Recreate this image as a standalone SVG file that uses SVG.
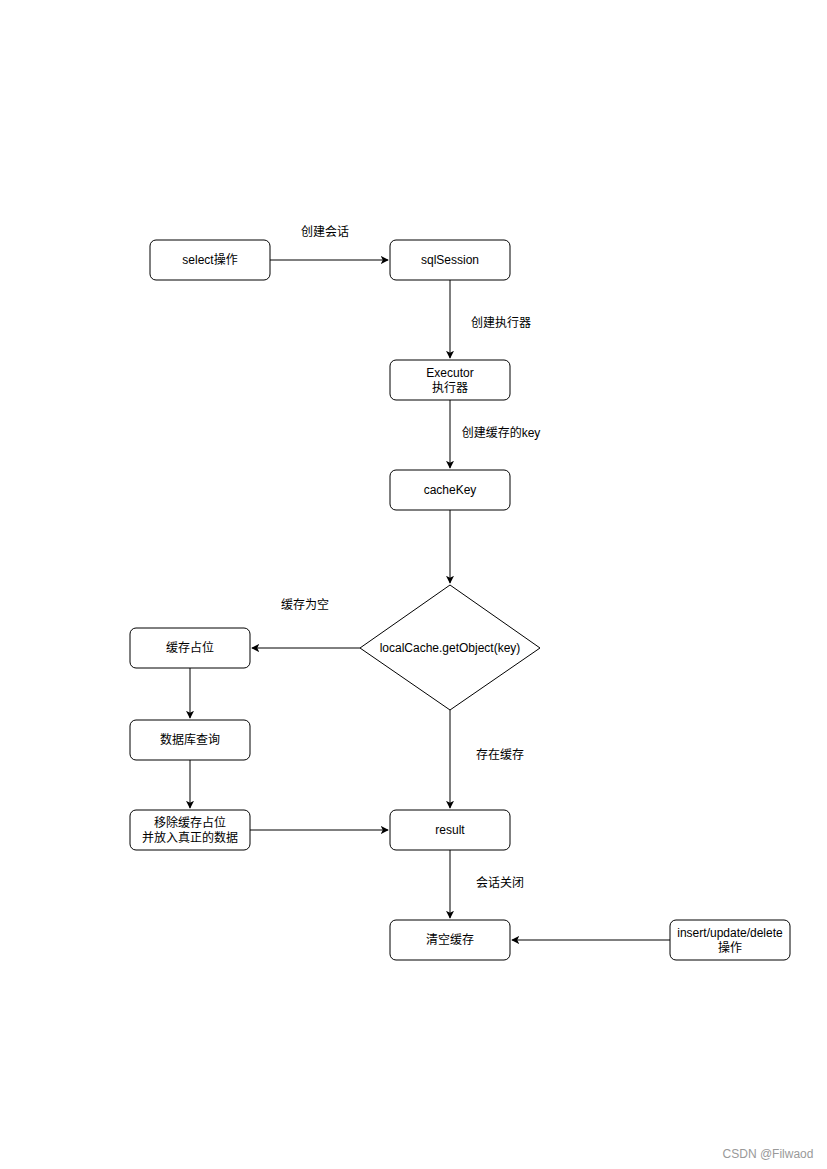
<svg xmlns="http://www.w3.org/2000/svg" width="827" height="1169" viewBox="0 0 827 1169">
<style>
.n{fill:#fff;stroke:#000;stroke-width:1}
.t{font-family:"Liberation Sans","Noto Sans CJK SC",sans-serif;font-size:12px;fill:#000;text-anchor:middle}
.e{fill:none;stroke:#000;stroke-width:1}
.w{font-family:"Liberation Sans","Noto Sans CJK SC",sans-serif;font-size:12px;fill:#999;text-anchor:middle}
</style>
<defs>
<marker id="a" viewBox="0 0 10 10" refX="9" refY="5" markerWidth="8" markerHeight="8" markerUnits="userSpaceOnUse" orient="auto">
<path d="M0,0 L10,5 L0,10 L2.5,5 Z" fill="#000"/>
</marker>
</defs>
<rect width="827" height="1169" fill="#fff"/>
<g id="connectors">
<path class="e" d="M270,260 H388" marker-end="url(#a)"/>
<path class="e" d="M450,280 V358" marker-end="url(#a)"/>
<path class="e" d="M450,400 V468" marker-end="url(#a)"/>
<path class="e" d="M450,510 V583" marker-end="url(#a)"/>
<path class="e" d="M360,648 H252" marker-end="url(#a)"/>
<path class="e" d="M190,668 V718" marker-end="url(#a)"/>
<path class="e" d="M190,760 V808" marker-end="url(#a)"/>
<path class="e" d="M250,830 H388" marker-end="url(#a)"/>
<path class="e" d="M450,710 V808" marker-end="url(#a)"/>
<path class="e" d="M450,850 V918" marker-end="url(#a)"/>
<path class="e" d="M670,940 H512" marker-end="url(#a)"/>
<text class="t" x="325" y="236">创建会话</text>
<text class="t" x="501" y="327">创建执行器</text>
<text class="t" x="501" y="437">创建缓存的key</text>
<text class="t" x="305" y="609">缓存为空</text>
<text class="t" x="500" y="759">存在缓存</text>
<text class="t" x="500" y="887">会话关闭</text>
</g>
<g id="select"><rect class="n" x="150" y="240" width="120" height="40" rx="6"/><text class="t" x="210" y="264">select操作</text></g>
<g id="sqlSession"><rect class="n" x="390" y="240" width="120" height="40" rx="6"/><text class="t" x="450" y="264">sqlSession</text></g>
<g id="executor"><rect class="n" x="390" y="360" width="120" height="40" rx="6"/><text class="t" x="450" y="377">Executor</text><text class="t" x="450" y="392">执行器</text></g>
<g id="cacheKey"><rect class="n" x="390" y="470" width="120" height="40" rx="6"/><text class="t" x="450" y="494">cacheKey</text></g>
<g id="decision"><path class="n" d="M450,585 L540,648 L450,710 L360,648 Z"/><text class="t" x="450" y="652">localCache.getObject(key)</text></g>
<g id="placeholder"><rect class="n" x="130" y="628" width="120" height="40" rx="6"/><text class="t" x="190" y="652">缓存占位</text></g>
<g id="dbquery"><rect class="n" x="130" y="720" width="120" height="40" rx="6"/><text class="t" x="190" y="744">数据库查询</text></g>
<g id="remove"><rect class="n" x="130" y="810" width="120" height="40" rx="6"/><text class="t" x="190" y="827">移除缓存占位</text><text class="t" x="190" y="842">并放入真正的数据</text></g>
<g id="result"><rect class="n" x="390" y="810" width="120" height="40" rx="6"/><text class="t" x="450" y="834">result</text></g>
<g id="clear"><rect class="n" x="390" y="920" width="120" height="40" rx="6"/><text class="t" x="450" y="944">清空缓存</text></g>
<g id="modify"><rect class="n" x="670" y="920" width="120" height="40" rx="6"/><text class="t" x="730" y="937">insert/update/delete</text><text class="t" x="730" y="952">操作</text></g>
<text class="w" x="768" y="1158">CSDN @Filwaod</text>
</svg>
